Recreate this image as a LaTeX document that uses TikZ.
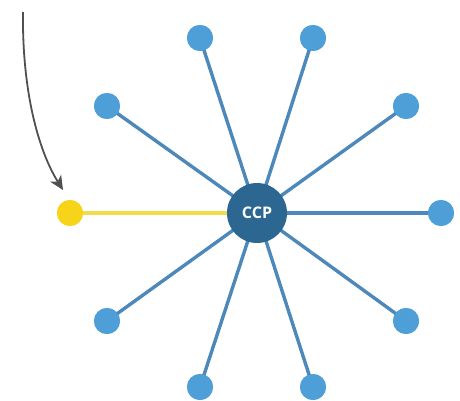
\documentclass[tikz,border=0pt]{standalone}
\usepackage{fontspec}
\setmainfont{Open Sans}
\usetikzlibrary{arrows.meta}
\definecolor{spoke}{HTML}{4C88B9}
\definecolor{leaf}{HTML}{4E9FD8}
\definecolor{hub}{HTML}{2C6792}
\definecolor{gold}{HTML}{F7D31A}
\definecolor{goldline}{HTML}{F2DC4A}
\definecolor{pointer}{HTML}{505050}
\tikzset{
  leafnode/.style={circle, fill=leaf, minimum size=26pt, inner sep=0pt},
  newnode/.style={circle, fill=gold, minimum size=26pt, inner sep=0pt},
  hubnode/.style={circle, fill=hub, minimum size=60pt, inner sep=0pt,
    text=white, font=\bfseries\fontsize{16}{16}\selectfont},
  link/.style={draw=spoke, line width=3.4pt},
  newlink/.style={draw=goldline, line width=3.4pt},
  pointerarrow/.style={draw=pointer, line width=1.8pt,
    -{Stealth[length=14pt, width=13pt, inset=4pt]}}
}
\begin{document}
\begin{tikzpicture}[x=1pt, y=-1pt]
  \useasboundingbox (0,0) rectangle (460,401);
  % hub and its spokes
  \coordinate (c) at (257,213);
  \node[leafnode] (n1) at (200,38) {};
  \node[leafnode] (n2) at (313,38) {};
  \node[leafnode] (n3) at (107,106) {};
  \node[leafnode] (n4) at (406,106) {};
  \node[leafnode] (n5) at (441,213) {};
  \node[leafnode] (n6) at (107,321) {};
  \node[leafnode] (n7) at (406,321) {};
  \node[leafnode] (n8) at (200,387) {};
  \node[leafnode] (n9) at (313,387) {};
  \node[newnode] (y) at (70,213) {};
  \foreach \n in {n1,n2,n3,n4,n5,n6,n7,n8,n9}
    \draw[link] (c) -- (\n.center);
  \draw[newlink] (c) -- (y.center);
  \node[newnode] at (y) {};
  \foreach \n in {n1,n2,n3,n4,n5,n6,n7,n8,n9}
    \node[leafnode] at (\n) {};
  \node[hubnode] (hub) at (c) {CCP};
  % pointer to the newly joined node
  \coordinate (p0) at (23,12);
  \coordinate (p1) at (63,190);
  \draw[pointerarrow] (p0) .. controls (22,90) and (38,150) .. (p1);
\end{tikzpicture}
\end{document}
